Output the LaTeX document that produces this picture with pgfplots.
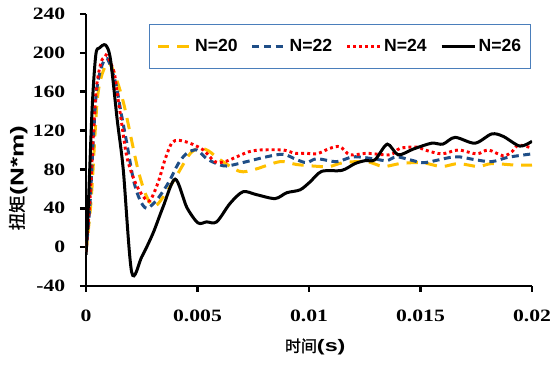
\documentclass[border=0pt]{standalone}
\usepackage{fontspec}
\usepackage{pgfplots}
\pgfplotsset{compat=1.18}
\setmainfont{Liberation Serif}
\newfontfamily\tickfont{Liberation Serif}[FakeStretch=1.25]
\newfontfamily\legfont{Liberation Sans}
\newfontfamily\labfont{Liberation Sans}[FakeStretch=1.4]
\newfontfamily\cjk{Noto Sans CJK SC}[FakeBold=1.5]
\definecolor{cyel}{RGB}{255,192,0}
\definecolor{cblu}{RGB}{31,78,135}
\definecolor{cred}{RGB}{255,0,0}
\definecolor{legblue}{RGB}{74,126,187}
\begin{document}
\begin{tikzpicture}
\begin{axis}[
  name=ax,
  scale only axis, width=334.5pt, height=204pt,
  xmin=0, xmax=0.02, ymin=-40, ymax=240,
  axis x line=bottom, axis y line=left,
  axis line style={line width=2pt, -},
  scaled x ticks=false,
  xtick={0,0.005,0.01,0.015,0.02},
  xticklabels={0,0.005,0.01,0.015,0.02},
  ytick={-40,0,40,80,120,160,200,240},
  yticklabels={-40,0,40,80,120,160,200,240},
  tick align=outside, major tick length=4.5pt,
  tick style={line width=2pt, black},
  ticklabel style={font=\tickfont\bfseries\fontsize{13}{13}\selectfont},
  xticklabel style={yshift=-10pt},
  yticklabel style={xshift=-7.5pt},
  xlabel={{\cjk\fontsize{12}{12}\selectfont 时间}{\labfont\bfseries\fontsize{12.5}{12}\selectfont (s)}},
  ylabel={{\cjk\fontsize{13}{13}\selectfont 扭矩}{\labfont\bfseries\fontsize{14}{13}\selectfont (N*m)}},
  xlabel style={at={(axis description cs:0.514,-0.224)}, anchor=center},
  ylabel style={at={(axis description cs:-0.152,0.397)}, anchor=center},
  legend columns=4,
  legend style={at={(0.998,0.963)}, anchor=north east, draw=legblue, line width=0.75pt,
    font=\legfont\bfseries\fontsize{13.2}{13}\selectfont, inner xsep=5pt, inner ysep=9pt,
    /tikz/every even column/.append style={column sep=8pt}},
  legend image code/.code={\draw[#1] (0pt,0pt) -- (24.75pt,0pt);},
  every axis plot/.append style={smooth, tension=0.5},
]
\addplot[cyel, line width=2.25pt, dash pattern=on 8.5pt off 6pt] coordinates {
(0,-5) (0.00018,35) (0.00027,62) (0.0005,150) (0.00072,178) (0.001,190) (0.0012,183)
(0.00148,165) (0.00171,146) (0.00189,127) (0.00234,79) (0.00272,52) (0.00309,42)
(0.00362,57) (0.0041,75) (0.00466,96) (0.0051,102) (0.0055,99) (0.00601,90)
(0.00689,78) (0.00756,80) (0.0087,88) (0.00946,85) (0.01049,83) (0.01094,83)
(0.01154,87) (0.01259,88) (0.01333,83) (0.01408,86) (0.01505,87) (0.01595,83)
(0.01669,86) (0.01759,83) (0.01819,86) (0.01924,84.5) (0.02,84.5)};
\addlegendentry{N=20}
\addplot[cblu, line width=2.25pt, dash pattern=on 5.25pt off 3.4pt] coordinates {
(0,-5) (0.00018,45) (0.00043,150) (0.00066,183) (0.00095,194) (0.00133,169)
(0.00156,140) (0.00183,107) (0.00213,69) (0.00242,48.5) (0.00272,40) (0.00317,48.5)
(0.00369,66) (0.00414,86) (0.00452,96.6) (0.00497,100) (0.00541,91) (0.00586,86)
(0.00631,83.5) (0.0072,88) (0.0081,93) (0.00885,95.6) (0.00945,90) (0.0099,87)
(0.01035,91) (0.01124,88) (0.01199,93) (0.01288,91) (0.01348,89) (0.01393,93)
(0.01468,89) (0.0152,87) (0.01655,93) (0.01744,90) (0.01819,88) (0.01893,92.5) (0.02,96)};
\addlegendentry{N=22}
\addplot[cred, line width=2.2pt, dash pattern=on 2.2pt off 2.3pt] coordinates {
(0,-5) (0.00018,50) (0.00043,155) (0.00066,189) (0.00085,196) (0.00096,197)
(0.00126,180) (0.0014,158) (0.00156,134) (0.00183,93) (0.0022,67) (0.00257,52)
(0.00287,48) (0.00324,67) (0.00354,90) (0.00384,107) (0.00414,110) (0.00466,107)
(0.00526,100) (0.00578,88) (0.00623,88) (0.00676,93) (0.00728,98) (0.0078,100)
(0.00885,100) (0.00937,96.6) (0.0099,96.6) (0.01035,96) (0.01094,101.7) (0.01139,103.4)
(0.01184,95) (0.01259,96.6) (0.01363,95) (0.01408,101.7) (0.01483,103) (0.0152,100)
(0.01595,96) (0.01669,100) (0.01752,96) (0.01804,100) (0.01871,94) (0.01909,98)
(0.01939,105) (0.02,102)};
\addlegendentry{N=24}
\addplot[black, line width=2.25pt] coordinates {
(0,-8) (0.0001,40) (0.00028,145) (0.00044,198) (0.0006,205) (0.00088,208) (0.0011,193)
(0.0014,131) (0.00167,80) (0.00205,-26) (0.0025,-10) (0.003,14) (0.00345,41) (0.004,70)
(0.00452,41) (0.00502,25) (0.00541,26) (0.00586,26) (0.00646,45) (0.00704,57)
(0.00765,54) (0.00848,50) (0.009,56) (0.0096,59) (0.01004,67) (0.01057,78)
(0.01147,79) (0.01206,86) (0.01251,89) (0.01296,90) (0.01351,106) (0.014,95)
(0.01468,101) (0.0155,107) (0.016,106) (0.01655,113) (0.01744,107) (0.01819,116.5)
(0.01871,114) (0.01946,104) (0.02,109)};
\addlegendentry{N=26}
\end{axis}
\pgfresetboundingbox
\path[use as bounding box] ([xshift=-64.5pt,yshift=-60pt]ax.south west) rectangle ([xshift=21pt,yshift=10.5pt]ax.north east);
\end{tikzpicture}
\end{document}
